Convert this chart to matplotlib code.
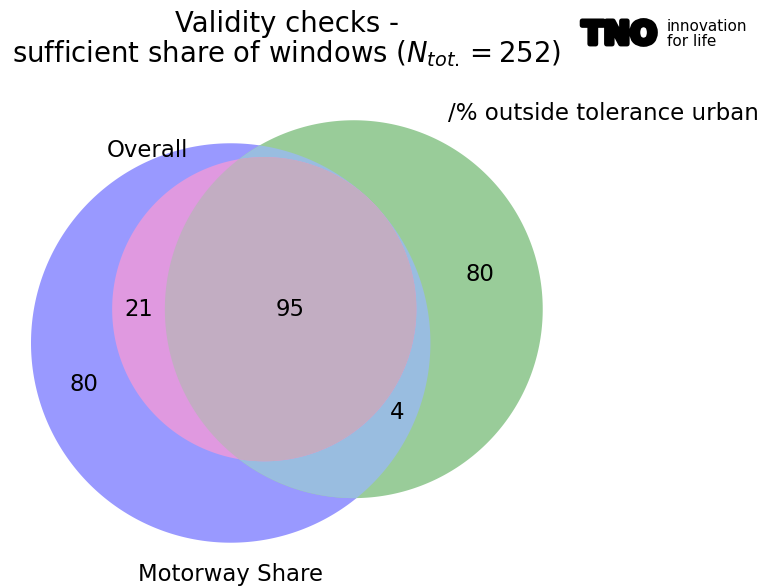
import numpy as np
import matplotlib
matplotlib.use('Agg')
import matplotlib.pyplot as plt
import matplotlib.patheffects as pe
from matplotlib.patches import Polygon

set_labels = ['Overall', '/% outside tolerance urban', 'Motorway Share']
# subset order as in venn3: Abc, aBc, ABc, abC, AbC, aBC, ABC
region_codes = ['100', '010', '110', '001', '101', '011', '111']
region_counts = [0, 80, 0, 80, 21, 4, 95]
set_colors = [(1.0, 0.0, 0.0), (0.0, 0.5, 0.0), (0.0, 0.0, 1.0)]
n_total = 252
title = 'Validity checks -\nsufficient share of windows ($N_{tot.} = %d$)' % n_total

W, H = 773, 588
PX = 25.03  # pixels per unit


def set_size(*idx):
    return sum(c for code, c in zip(region_codes, region_counts)
               if all(code[i] == '1' for i in idx))


def lens_area(d, r1, r2):
    if d >= r1 + r2:
        return 0.0
    if d <= abs(r1 - r2):
        return np.pi * min(r1, r2) ** 2
    a1 = r1 ** 2 * np.arccos((d * d + r1 * r1 - r2 * r2) / (2 * d * r1))
    a2 = r2 ** 2 * np.arccos((d * d + r2 * r2 - r1 * r1) / (2 * d * r2))
    a3 = 0.5 * np.sqrt((-d + r1 + r2) * (d + r1 - r2) * (d - r1 + r2) * (d + r1 + r2))
    return a1 + a2 - a3


def find_dist(r1, r2, area):
    lo, hi = abs(r1 - r2), r1 + r2
    if area >= lens_area(lo, r1, r2) - 1e-9:
        return lo
    for _ in range(200):
        mid = (lo + hi) / 2
        if lens_area(mid, r1, r2) > area:
            lo = mid
        else:
            hi = mid
    return (lo + hi) / 2


# circle layout the way matplotlib_venn does it
radii = np.sqrt(np.array([set_size(0), set_size(1), set_size(2)]) / np.pi)
dists = [find_dist(radii[0], radii[1], set_size(0, 1)),
         find_dist(radii[1], radii[2], set_size(1, 2)),
         find_dist(radii[2], radii[0], set_size(0, 2))]
for i in range(3):
    j, k = (i + 1) % 3, (i + 2) % 3
    if dists[i] > dists[j] + dists[k]:
        a, b = (j, k) if dists[j] < dists[k] else (k, j)
        dists[i] = dists[b] + dists[a] * 0.8
d_ab, d_bc, d_ac = dists
cx = (d_ac ** 2 - d_bc ** 2 + d_ab ** 2) / (2 * d_ab)
centers = np.array([[0.0, 0.0], [d_ab, 0.0],
                    [cx, -np.sqrt(max(d_ac ** 2 - cx ** 2, 0.0))]])

xmin = (centers[:, 0] - radii).min(); xmax = (centers[:, 0] + radii).max()
ymin = (centers[:, 1] - radii).min(); ymax = (centers[:, 1] + radii).max()


def mix(idx):
    c = np.array([set_colors[i] for i in idx])
    if len(idx) == 1:
        m = c[0]
    elif len(idx) == 2:
        m = 0.7 * c.sum(0)
    else:
        m = 0.4 * c.sum(0)
    m = np.minimum(m, 1.0)
    return tuple(0.6 + 0.4 * m)  # alpha 0.4 on white


def inside_all(p, code, skip=None, tol=1e-6):
    ok = np.ones(len(p), bool)
    for j in range(3):
        if j == skip:
            continue
        d = np.hypot(*(p - centers[j]).T)
        ok &= (d <= radii[j] * (1 + tol)) if code[j] == '1' else (d >= radii[j] * (1 - tol))
    return ok


def inter_poly(idx, n=1440):
    t = np.linspace(0, 2 * np.pi, n, endpoint=False)
    pts = []
    for i in idx:
        p = centers[i] + radii[i] * np.column_stack([np.cos(t), np.sin(t)])
        ok = np.ones(n, bool)
        for j in idx:
            if j != i:
                ok &= np.hypot(*(p - centers[j]).T) <= radii[j] * (1 + 1e-6)
        pts.append(p[ok])
    pts = np.vstack(pts)
    if len(pts) < 3:
        return None
    m = pts.mean(0)
    return pts[np.argsort(np.arctan2(pts[:, 1] - m[1], pts[:, 0] - m[0]))]


def arc_midpoints(code, n=2000):
    t = np.linspace(0, 2 * np.pi, n, endpoint=False)
    mids = []
    for i in range(3):
        p = centers[i] + radii[i] * np.column_stack([np.cos(t), np.sin(t)])
        ok = inside_all(p, code, skip=i)
        if ok.all() or not ok.any():
            continue
        shift = np.argmin(ok)  # start at a point off the region
        ok = np.roll(ok, -shift)
        pr = np.roll(p, -shift, axis=0)
        runs = np.flatnonzero(np.diff(np.r_[0, ok.astype(int), 0])).reshape(-1, 2)
        for s, e in runs:
            if e - s > 3:
                mids.append(pr[(s + e - 1) // 2])
    return np.array(mids)


fig = plt.figure(figsize=(W / 100, H / 100), dpi=100)
left_px, bottom_px = 31, 542.7
ax = fig.add_axes([left_px / W, (H - bottom_px) / H,
                   (xmax - xmin) * PX / W, (ymax - ymin) * PX / H])
ax.set_xlim(xmin, xmax)
ax.set_ylim(ymin, ymax)
ax.axis('off')

# painter order: each step paints an intersection with its region colour
order = [(2,), (1,), (0,), (1, 2), (0, 1), (0, 2), (0, 1, 2)]
for idx in order:
    code = ''.join('1' if i in idx else '0' for i in range(3))
    if region_counts[region_codes.index(code)] == 0:
        continue
    poly = inter_poly(idx)
    if poly is not None:
        ax.add_patch(Polygon(poly, closed=True, facecolor=mix(idx),
                             edgecolor='none', clip_on=False))

# subset labels
gx = np.linspace(xmin, xmax, 900)
gy = np.linspace(ymin, ymax, 900)
X, Y = np.meshgrid(gx, gy)
for code, cnt in zip(region_codes, region_counts):
    if cnt == 0:
        continue
    mask = inside_all(np.column_stack([X.ravel(), Y.ravel()]), code, tol=0).reshape(X.shape)
    if not mask.any():
        continue
    mids = arc_midpoints(code)
    lp = mids.mean(0) if len(mids) else np.array([X[mask].mean(), Y[mask].mean()])
    if not inside_all(lp[None, :], code, tol=0)[0]:
        # longest horizontal chord through the region's centre of mass
        my = Y[mask].mean()
        rows = np.argsort(abs(gy - my))
        row = next(r_ for r_ in rows if mask[r_].any())
        runs = np.flatnonzero(np.diff(np.r_[0, mask[row].astype(int), 0])).reshape(-1, 2)
        s, e = runs[np.argmax(runs[:, 1] - runs[:, 0])]
        lp = np.array([gx[s:e].mean(), gy[row]])
    ax.text(lp[0], lp[1], str(cnt), ha='center', va='center', fontsize=16.4)

# set labels like matplotlib_venn
ax.text(centers[0, 0] - radii[0] / 2, centers[0, 1] + radii[0], set_labels[0],
        ha='right', fontsize=16.4)
ax.text(centers[1, 0] + radii[1] / 2, centers[1, 1] + radii[1], set_labels[1],
        ha='left', fontsize=16.5)
ax.text(centers[2, 0], centers[2, 1] - 1.1 * radii[2], set_labels[2],
        ha='center', va='top', fontsize=16.4)

pos = ax.get_position()
fig.text((pos.x0 + pos.x1) / 2, 1 - 10 / H, title, ha='center', va='top',
         fontsize=19.8, linespacing=1.0)

# TNO logo
fig.text(582 / W, 1 - 44 / H, 'TNO', fontsize=22.8, fontweight='heavy',
         ha='left', va='baseline',
         path_effects=[pe.withStroke(linewidth=3.5, foreground='black')])
fig.text(667 / W, 1 - 30.7 / H, 'innovation', fontsize=11, ha='left', va='baseline')
fig.text(667 / W, 1 - 46 / H, 'for life', fontsize=11, ha='left', va='baseline')

fig.savefig('out.png', dpi=100)
